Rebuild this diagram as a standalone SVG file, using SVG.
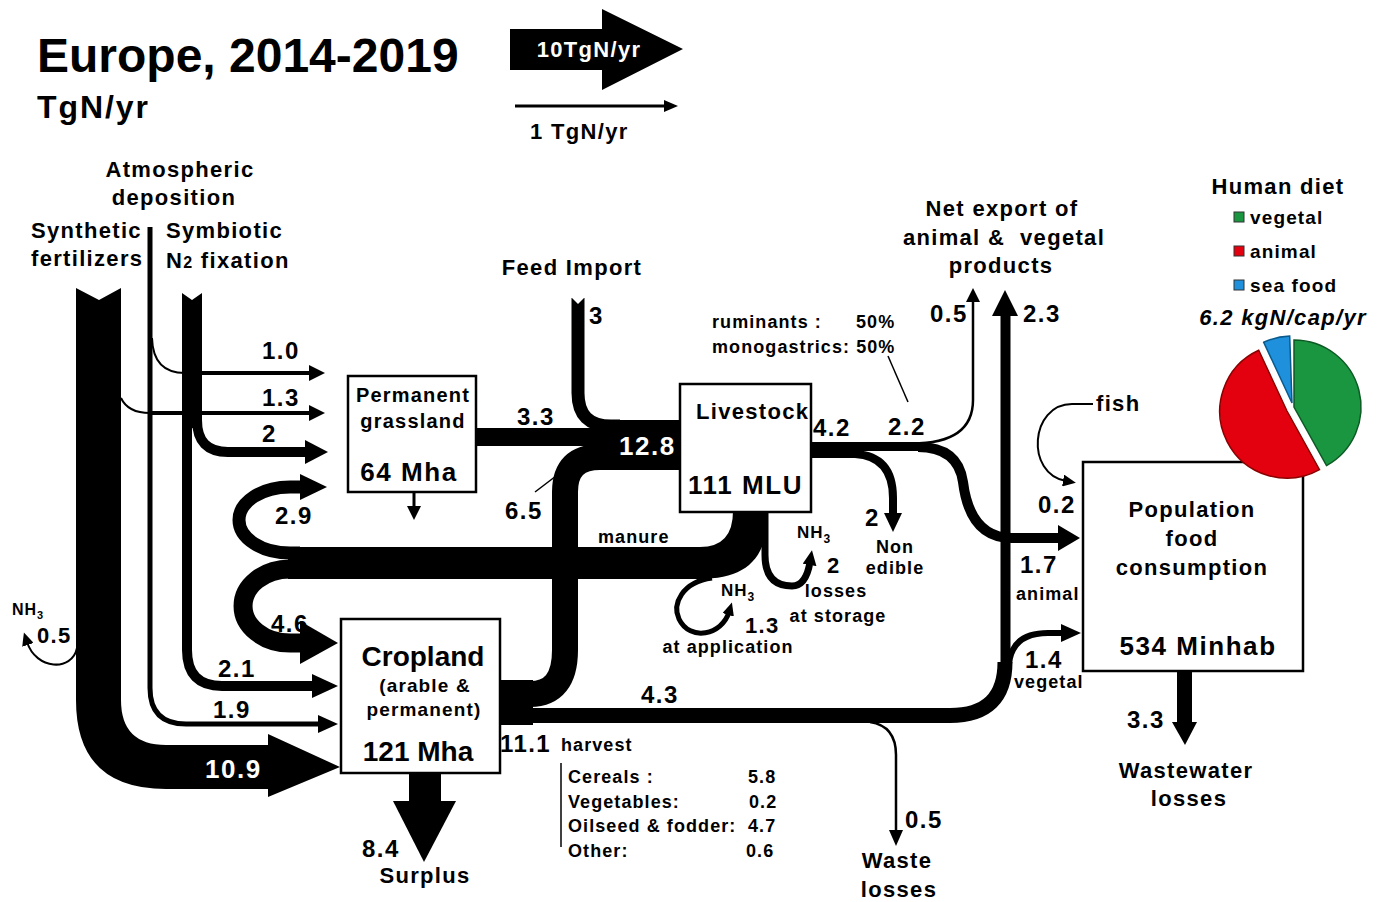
<svg xmlns="http://www.w3.org/2000/svg" width="1386" height="902" viewBox="0 0 1386 902">
<style>
text{font-family:"Liberation Sans",Arial,Helvetica,sans-serif;font-weight:bold;fill:#000;letter-spacing:0.06em}
.n{letter-spacing:0}
.w{fill:#fff}
.m{text-anchor:middle}
.box{fill:#fff;stroke:#000;stroke-width:2.5}
.s{fill:none;stroke:#000;stroke-linecap:butt}
.f{fill:#000;stroke:none}
</style>
<defs>
<marker id="ah" markerUnits="userSpaceOnUse" markerWidth="16" markerHeight="14" refX="3" refY="7" orient="auto">
<path d="M0,0 L15,7 L0,14 z" fill="#000"/>
</marker>
<marker id="ahs" markerUnits="userSpaceOnUse" markerWidth="14" markerHeight="12" refX="3" refY="6" orient="auto">
<path d="M0,0 L13,6 L0,12 z" fill="#000"/>
</marker>
</defs>
<rect width="1386" height="902" fill="#fff"/>

<!-- title and legend -->
<g id="title">
<text class="n" x="37" y="72" font-size="48">Europe, 2014-2019</text>
<text x="37" y="118" font-size="32">TgN/yr</text>
</g>
<g id="legend">
<polygon class="f" points="510,29 602,29 602,9 683,49 602,90 602,70 510,70"/>
<text class="w m" x="589" y="57" font-size="22">10TgN/yr</text>
<line class="s" x1="515" y1="106" x2="666" y2="106" stroke-width="3"/>
<polygon class="f" points="664,100 678,106 664,112"/>
<text x="530" y="139" font-size="22">1 TgN/yr</text>
</g>

<!-- connectors -->
<g id="connectors">
<!-- synthetic fertilizers 10.9 -->
<path class="f" d="M76,288 L99,300 L121,288 L121,700 Q121,745 166,745 L268,745 L268,734 L340,767 L268,797 L268,789 L166,789 Q76,789 76,700 Z"/>
<!-- NH3 0.5 loss -->
<path class="s" stroke-width="2" d="M77,648 C72,672 36,670 27,642" marker-end="url(#ahs)"/>
<!-- 1.3 from synthetic -->
<path class="s" stroke-width="2" d="M121,398 Q128,413 150,413"/>
<line class="s" x1="150" y1="413" x2="312" y2="413" stroke-width="4"/>
<polygon class="f" points="309,405 325,413 309,421"/>
<!-- atmospheric deposition -->
<path class="s" stroke-width="5" d="M150,227 L150,688 Q150,724 186,724 L322,724"/>
<polygon class="f" points="318,715 338,724 318,733"/>
<path class="s" stroke-width="2" d="M152,338 Q153,373 185,373"/>
<line class="s" x1="183" y1="373" x2="312" y2="373" stroke-width="4"/>
<polygon class="f" points="309,365 325,373 309,381"/>
<!-- symbiotic fixation -->
<polygon class="f" points="182,293 192,300 202,293 202,428 182,428"/>
<path class="s" stroke-width="10" d="M197,420 Q197,452 228,452 L308,452"/>
<polygon class="f" points="305,440 328,452 305,464"/>
<path class="s" stroke-width="10" d="M187,420 L187,650 Q187,686 222,686 L315,686"/>
<polygon class="f" points="312,674 338,686 312,698"/>
<!-- grassland down -->
<line class="s" x1="414" y1="492" x2="414" y2="508" stroke-width="3"/>
<polygon class="f" points="407,506 414,520 421,506"/>
<!-- feed import -->
<path class="s" stroke-width="13" d="M578,298 L578,393 Q578,426 611,426 L620,426"/>
<polygon fill="#fff" points="571,297 578,304 585,297"/>
<!-- 3.3 grassland -> livestock -->
<rect class="f" x="476" y="428" width="140" height="18"/>
<!-- 12.8 -->
<rect class="f" x="603" y="420" width="78" height="50"/>
<!-- 6.5 cropland -> livestock and harvest stub -->
<path class="s" stroke-width="26" d="M530,694 Q565,694 565,650 L565,492 Q565,457 600,457 L610,457"/>
<rect class="f" x="497" y="680" width="36" height="45"/>
<line class="s" x1="535" y1="492" x2="556" y2="476" stroke-width="1.5"/>
<!-- 4.3 harvest to food / export -->
<path class="s" stroke-width="15" d="M497,715.5 L950,715.5 Q1005,715.5 1005,662"/>
<line class="s" x1="1005.5" y1="668" x2="1005.5" y2="314" stroke-width="10"/>
<polygon class="f" points="992,316 1005,290 1018,316"/>
<path class="s" stroke-width="6" d="M1009,664 Q1012,633 1048,633 L1063,633"/>
<polygon class="f" points="1061,624 1081,633 1061,642"/>
<!-- waste losses -->
<path class="s" stroke-width="2.5" d="M870,722 Q896,726 896,755 L896,832"/>
<polygon class="f" points="889,830 896,846 903,830"/>
<!-- surplus -->
<rect class="f" x="409" y="772" width="32" height="30"/>
<polygon class="f" points="393,801 456,801 424,862"/>
<!-- manure -->
<path class="f" d="M288,547 L700,547 Q733,547 733,511 L768,511 C768,560 745,579 700,579 L288,579 Z"/>
<path class="s" stroke-width="13" d="M300,553 L290,553 A51,33 0 0 1 290,487 L302,487"/>
<polygon class="f" points="300,474 327,487 300,500"/>
<path class="s" stroke-width="19" d="M300,569 L290,569 A47,37 0 0 0 290,643 L304,643"/>
<polygon class="f" points="300,621 338,643 300,664"/>
<!-- NH3 losses at application -->
<path class="s" stroke-width="5" d="M712,578 C682,582 672,604 679,619 C690,642 722,635 729,612" marker-end="url(#ahs)"/>
<!-- NH3 losses at storage -->
<path class="s" stroke-width="7" d="M765,511 L765,555 Q765,586 792,586 Q806,586 810,562" marker-end="url(#ah)"/>
<!-- livestock outputs -->
<rect class="f" x="811" y="442" width="52" height="16"/>
<rect class="f" x="862" y="442" width="58" height="9"/>
<path class="s" stroke-width="8" d="M855,454 Q893,456 893,498 L893,515"/>
<polygon class="f" points="884,513 893,532 902,513"/>
<path class="s" stroke-width="2.5" d="M912,443.5 Q973,443.5 973,400 L973,300"/>
<polygon class="f" points="966,302 973,288 980,302"/>
<path class="s" stroke-width="10" d="M918,447 Q958,447 963,482 Q970,538 1012,538 L1060,538"/>
<polygon class="f" points="1058,525 1080,538 1058,551"/>
<line class="s" x1="888" y1="356" x2="908" y2="402" stroke-width="1.5"/>
<!-- fish -->
<path class="s" stroke-width="2" d="M1093,404 L1072,404 C1030,404 1025,474 1066,481" marker-end="url(#ahs)"/>
<!-- wastewater -->
<rect class="f" x="1177" y="670" width="15" height="53"/>
<polygon class="f" points="1172,722 1197,722 1185,745"/>
</g>

<!-- source labels -->
<g id="atmospheric-deposition">
<text class="m" x="180" y="177" font-size="22">Atmospheric</text>
<text class="m" x="174" y="205" font-size="22">deposition</text>
</g>
<g id="synthetic-fertilizers">
<text x="31" y="238" font-size="22">Synthetic</text>
<text x="31" y="266" font-size="22">fertilizers</text>
</g>
<g id="symbiotic-fixation">
<text x="166" y="238" font-size="22">Symbiotic</text>
<text x="166" y="268" font-size="22">N<tspan font-size="16">2</tspan> fixation</text>
</g>
<g id="feed-import">
<text class="m" x="572" y="275" font-size="22">Feed Import</text>
</g>

<!-- nodes -->
<g id="grassland">
<rect class="box" x="348" y="376" width="128" height="116"/>
<text class="m" x="413" y="402" font-size="20">Permanent</text>
<text class="m" x="413" y="428" font-size="20">grassland</text>
<text class="m" x="409" y="481" font-size="26">64 Mha</text>
</g>
<g id="livestock">
<rect class="box" x="680" y="384" width="131" height="128"/>
<text x="696" y="419" font-size="22">Livestock</text>
<text x="688" y="494" font-size="26">111 MLU</text>
</g>
<g id="cropland">
<rect class="box" x="341" y="619" width="159" height="154"/>
<text class="m n" x="423" y="666" font-size="28">Cropland</text>
<text class="m" x="425" y="692" font-size="19">(arable &amp;</text>
<text class="m" x="424" y="716" font-size="19">permanent)</text>
<text class="m n" x="418" y="761" font-size="28">121 Mha</text>
</g>
<g id="population">
<rect class="box" x="1083" y="462" width="220" height="209"/>
<text class="m" x="1192" y="517" font-size="22">Population</text>
<text class="m" x="1192" y="546" font-size="22">food</text>
<text class="m" x="1192" y="575" font-size="22">consumption</text>
<text class="m" x="1198" y="655" font-size="26">534 Minhab</text>
</g>
<g id="net-export">
<text class="m" x="1002" y="216" font-size="22">Net export of</text>
<text class="m" x="1004" y="245" font-size="22" xml:space="preserve">animal &amp;  vegetal</text>
<text class="m" x="1001" y="273" font-size="22">products</text>
</g>
<g id="human-diet">
<text class="m" x="1278" y="194" font-size="22">Human diet</text>
<rect x="1234" y="212" width="10" height="10" fill="#1a9641" stroke="#333" stroke-width="1"/>
<text x="1250" y="224" font-size="19" fill="#222">vegetal</text>
<rect x="1234" y="246" width="10" height="10" fill="#e3000f" stroke="#333" stroke-width="1"/>
<text x="1250" y="258" font-size="19" fill="#222">animal</text>
<rect x="1234" y="280" width="10" height="10" fill="#1e90dc" stroke="#333" stroke-width="1"/>
<text x="1250" y="292" font-size="19" fill="#222">sea food</text>
<text class="m" x="1283" y="325" font-size="22" font-style="italic">6.2 kgN/cap/yr</text>
<path d="M1294,340 A67,67 0 0 1 1326.5,465.6 L1294,407 Z" fill="#1a9641" stroke="#0d5a25" stroke-width="1.5"/>
<path d="M1319.5,469.6 A67,67 0 1 1 1258.7,350.3 L1287,411 Z" fill="#e3000f" stroke="#8a0000" stroke-width="1.5"/>
<path d="M1263.7,342.3 A67,67 0 0 1 1289.7,336 L1292,403 Z" fill="#1e90dc" stroke="#0b5a8c" stroke-width="1.5"/>
</g>
<g id="sinks">
<text x="1096" y="411" font-size="22">fish</text>
<text class="m" x="1186" y="778" font-size="22">Wastewater</text>
<text class="m" x="1189" y="806" font-size="22">losses</text>
<text class="m" x="425" y="883" font-size="22">Surplus</text>
<text class="m" x="897" y="868" font-size="22">Waste</text>
<text class="m" x="899" y="897" font-size="22">losses</text>
<text class="m" x="895" y="553" font-size="18">Non</text>
<text class="m" x="895" y="574" font-size="18">edible</text>
</g>

<!-- flow labels -->
<g id="flow-labels">
<text x="262" y="359" font-size="24">1.0</text>
<text x="262" y="406" font-size="24">1.3</text>
<text x="262" y="442" font-size="24">2</text>
<text x="589" y="324" font-size="24">3</text>
<text x="517" y="425" font-size="24">3.3</text>
<text class="w" x="619" y="455" font-size="26">12.8</text>
<text x="505" y="519" font-size="24">6.5</text>
<text x="712" y="328" font-size="18">ruminants :</text>
<text x="856" y="328" font-size="18">50%</text>
<text x="712" y="353" font-size="18">monogastrics: 50%</text>
<text x="813" y="436" font-size="24">4.2</text>
<text x="888" y="435" font-size="24">2.2</text>
<text x="930" y="322" font-size="24">0.5</text>
<text x="1023" y="322" font-size="24">2.3</text>
<text x="1038" y="513" font-size="24">0.2</text>
<text x="1020" y="573" font-size="24">1.7</text>
<text x="1016" y="600" font-size="18">animal</text>
<text x="1025" y="668" font-size="24">1.4</text>
<text x="1014" y="688" font-size="18">vegetal</text>
<text x="1127" y="728" font-size="24">3.3</text>
<text x="865" y="526" font-size="24">2</text>
<text x="797" y="538" font-size="17">NH<tspan font-size="12" dy="5">3</tspan></text>
<text x="827" y="573" font-size="22">2</text>
<text class="m" x="836" y="597" font-size="18">losses</text>
<text class="m" x="838" y="622" font-size="18">at storage</text>
<text x="721" y="596" font-size="17">NH<tspan font-size="12" dy="5">3</tspan></text>
<text x="745" y="633" font-size="22">1.3</text>
<text class="m" x="728" y="653" font-size="18">at application</text>
<text x="598" y="543" font-size="18">manure</text>
<text x="275" y="524" font-size="24">2.9</text>
<text x="271" y="632" font-size="24">4.6</text>
<text x="218" y="677" font-size="24">2.1</text>
<text x="213" y="718" font-size="24">1.9</text>
<text x="12" y="615" font-size="16">NH<tspan font-size="11" dy="4">3</tspan></text>
<text x="37" y="643" font-size="22">0.5</text>
<text class="w" x="205" y="778" font-size="26">10.9</text>
<text x="641" y="703" font-size="24">4.3</text>
<text x="500" y="752" font-size="24">11.1</text>
<text x="561" y="751" font-size="18">harvest</text>
<line x1="561" y1="763" x2="561" y2="847" stroke="#000" stroke-width="1.5"/>
<text x="568" y="783" font-size="18">Cereals :</text>
<text x="748" y="783" font-size="18">5.8</text>
<text x="568" y="808" font-size="18">Vegetables:</text>
<text x="749" y="808" font-size="18">0.2</text>
<text x="568" y="832" font-size="18">Oilseed &amp; fodder:</text>
<text x="748" y="832" font-size="18">4.7</text>
<text x="568" y="857" font-size="18">Other:</text>
<text x="746" y="857" font-size="18">0.6</text>
<text x="362" y="857" font-size="24">8.4</text>
<text x="905" y="828" font-size="24">0.5</text>
</g>
</svg>
